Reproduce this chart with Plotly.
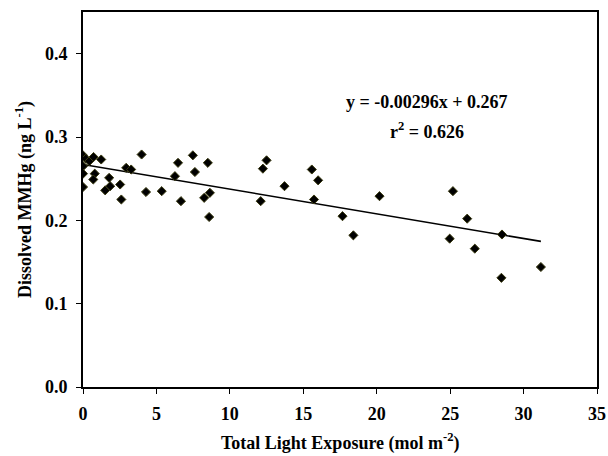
import plotly.graph_objects as go

# Total light exposure (mol m^-2) and dissolved MMHg (ng L^-1) for each sample
light_exposure = [
    0.0, 0.19, 0.43, 0.72, 1.24, 0.0, 0.0, 0.0, 0.80, 0.70,
    1.78, 1.51, 1.85, 2.53, 2.61, 2.94, 3.28, 3.99, 4.29, 5.36,
    6.26, 6.47, 6.67, 7.48, 7.62, 8.25, 8.50, 8.64, 8.59, 12.10,
    12.25, 12.50, 13.72, 15.58, 16.01, 15.73, 17.67, 18.41, 20.19, 24.97,
    25.19, 26.16, 26.68, 28.53, 28.49, 31.18,
]
mmhg = [
    0.278, 0.274, 0.271, 0.276, 0.273, 0.265, 0.256, 0.240, 0.256, 0.249,
    0.251, 0.236, 0.241, 0.243, 0.225, 0.263, 0.261, 0.279, 0.234, 0.235,
    0.253, 0.269, 0.223, 0.278, 0.258, 0.227, 0.269, 0.233, 0.204, 0.223,
    0.262, 0.272, 0.241, 0.261, 0.248, 0.225, 0.205, 0.182, 0.229, 0.178,
    0.235, 0.202, 0.166, 0.183, 0.131, 0.144,
]

# Linear regression reported on the chart
slope = -0.00296
intercept = 0.267
r_squared = 0.626

x_ticks = [0, 5, 10, 15, 20, 25, 30, 35]
y_ticks = [0.0, 0.1, 0.2, 0.3, 0.4]

FONT = "Liberation Serif"
SIZE = 18

fit_x = [0.0, max(light_exposure)]
fit_y = [intercept + slope * v for v in fit_x]

fig = go.Figure()
fig.add_trace(go.Scatter(
    x=fit_x, y=fit_y, mode="lines",
    line=dict(color="black", width=1.6),
    showlegend=False, hoverinfo="skip",
))
fig.add_trace(go.Scatter(
    x=light_exposure, y=mmhg, mode="markers",
    marker=dict(symbol="diamond", size=7, color="black",
                line=dict(color="#3a3a10", width=1)),
    showlegend=False,
))

fig.add_annotation(
    x=23.4, y=0.342, xref="x", yref="y", showarrow=False,
    text=f"<b>y = {slope:.5f}x + {intercept:.3f}</b>",
    font=dict(family=FONT, size=SIZE, color="black"),
)
fig.add_annotation(
    x=23.4, y=0.308, xref="x", yref="y", showarrow=False,
    text=f"<b>r<sup>2</sup> = {r_squared:.3f}</b>",
    font=dict(family=FONT, size=SIZE, color="black"),
)
# x-axis title, placed below the tick labels
fig.add_annotation(
    x=0.5, y=0, xref="paper", yref="paper", showarrow=False,
    yanchor="middle", yshift=-55,
    text="<b>Total Light Exposure (mol m<sup>-2</sup>)</b>",
    font=dict(family=FONT, size=SIZE, color="black"),
)

axis_common = dict(
    showgrid=False, zeroline=False, showline=True, mirror=True,
    linecolor="black", linewidth=1.6, ticks="outside", ticklen=5,
    tickwidth=1.3, tickcolor="black", ticklabelstandoff=5,
    tickfont=dict(family=FONT, size=SIZE, color="black"),
)

fig.update_xaxes(
    range=[0, 35], tickvals=x_ticks, ticktext=[f"<b>{t}</b>" for t in x_ticks],
    automargin=False,
    **axis_common,
)
fig.update_yaxes(
    range=[0, 0.45], tickvals=y_ticks, ticktext=[f"<b>{t:.1f}</b>" for t in y_ticks],
    title=dict(text="<b>Dissolved MMHg (ng L<sup>-1</sup>)</b>",
               font=dict(family=FONT, size=SIZE, color="black"), standoff=9),
    **axis_common,
)

fig.update_layout(
    width=608, height=456,
    margin=dict(l=83, r=9, t=12, b=69),
    plot_bgcolor="white", paper_bgcolor="white",
)

fig.write_html("out.html")
